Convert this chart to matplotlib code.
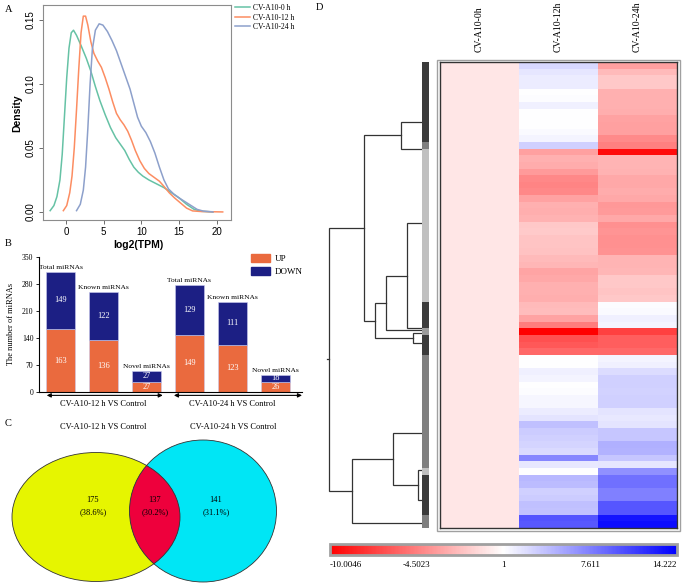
import matplotlib
matplotlib.use("Agg")
import matplotlib.pyplot as plt
import numpy as np
from matplotlib.patches import Ellipse, Patch, Rectangle
from matplotlib.colors import LinearSegmentedColormap, ListedColormap, TwoSlopeNorm

W, H = 685, 583
SERIF = ['Liberation Serif', 'DejaVu Serif']
SANS = ['Liberation Sans', 'DejaVu Sans']
plt.rcParams['font.family'] = SERIF

# ---------------- A: density of log2(TPM)
dens_labels = ['CV-A10-0 h', 'CV-A10-12 h', 'CV-A10-24 h']
dens_colors = ['#66c2a5', '#fc8d62', '#8da0cb']
x_0h = [-2.1, -1.6, -1.2, -0.8, -0.5, -0.2, 0.1, 0.4, 0.7, 1.0, 1.4, 2.0, 2.7, 3.3,
        3.9, 4.5, 5.2, 5.9, 6.6, 7.2, 7.8, 8.4, 9.0, 9.6, 10.2, 11.0, 12.0, 13.0,
        14.0, 15.0, 16.0, 17.0, 18.0, 19.5]
y_0h = [0.001, 0.005, 0.012, 0.025, 0.045, 0.075, 0.105, 0.128, 0.140, 0.142, 0.138,
        0.130, 0.120, 0.110, 0.098, 0.087, 0.076, 0.066, 0.058, 0.053, 0.048, 0.041,
        0.035, 0.031, 0.028, 0.025, 0.022, 0.019, 0.015, 0.011, 0.006, 0.002, 0.0005, 0.0]
x_12h = [-0.35, 0.1, 0.5, 0.8, 1.1, 1.4, 1.7, 2.0, 2.3, 2.6, 2.9, 3.3, 3.7, 4.2, 4.7,
         5.2, 5.7, 6.2, 6.7, 7.2, 7.7, 8.2, 8.7, 9.2, 9.8, 10.4, 11.0, 11.7, 12.4,
         13.0, 13.7, 14.4, 15.2, 16.0, 16.8, 18.0, 20.8]
y_12h = [0.001, 0.005, 0.015, 0.028, 0.050, 0.080, 0.112, 0.140, 0.153, 0.153, 0.146,
         0.133, 0.124, 0.118, 0.113, 0.105, 0.096, 0.086, 0.077, 0.072, 0.068, 0.063,
         0.056, 0.048, 0.040, 0.034, 0.030, 0.027, 0.024, 0.020, 0.015, 0.011, 0.007,
         0.003, 0.0008, 0.0003, 0.0]
x_24h = [1.4, 1.9, 2.3, 2.6, 2.9, 3.2, 3.5, 3.9, 4.4, 4.9, 5.5, 6.1, 6.7, 7.3, 7.9,
         8.5, 9.0, 9.5, 10.0, 10.6, 11.2, 11.8, 12.4, 13.0, 13.6, 14.3, 15.0, 15.8,
         16.6, 17.4, 18.2, 19.5]
y_24h = [0.001, 0.006, 0.017, 0.035, 0.065, 0.100, 0.127, 0.142, 0.147, 0.146, 0.141,
         0.134, 0.126, 0.116, 0.106, 0.096, 0.085, 0.074, 0.067, 0.062, 0.055, 0.046,
         0.035, 0.025, 0.018, 0.014, 0.011, 0.008, 0.005, 0.002, 0.0007, 0.0]

# ---------------- B: differentially expressed miRNAs
groups = ['CV-A10-12 h VS Control', 'CV-A10-24 h VS Control']
categories = ['Total miRNAs', 'Known miRNAs', 'Novel miRNAs']
up_counts = [163, 136, 27, 149, 123, 26]
down_counts = [149, 122, 27, 129, 111, 18]

# ---------------- C: Venn
venn_titles = ['CV-A10-12 h VS Control', 'CV-A10-24 h VS Control']
venn_counts = [175, 137, 141]
venn_pcts = ['38.6%', '30.2%', '31.1%']

# ---------------- D: heatmap
col_labels = ['CV-A10-0h', 'CV-A10-12h', 'CV-A10-24h']
ctrl_0h = [-0.1, -0.1, -0.1, -0.1, -0.1, -0.1, -0.1, -0.1, -0.1, -0.1,
           -0.1, -0.1, -0.1, -0.1, -0.1, -0.1, -0.1, -0.1, -0.1, -0.1,
           -0.1, -0.1, -0.1, -0.1, -0.1, -0.1, -0.1, -0.1, -0.1, -0.1,
           -0.1, -0.1, -0.1, -0.1, -0.1, -0.1, -0.1, -0.1, -0.1, -0.1,
           -0.1, -0.1, -0.1, -0.1, -0.1, -0.1, -0.1, -0.1, -0.1, -0.1,
           -0.1, -0.1, -0.1, -0.1, -0.1, -0.1, -0.1, -0.1, -0.1, -0.1,
           -0.1, -0.1, -0.1, -0.1, -0.1, -0.1, -0.1, -0.1, -0.1, -0.1]
val_12h = [3.0, 2.3, 2.0, 2.0, 1.0, 1.2, 1.8, 1.0, 1.1, 1.0,
           1.3, 1.6, 3.4, -3.1, -2.4, -2.6, -3.3, -4.1, -4.3, -4.1,
           -3.0, -2.4, -2.5, -2.3, -1.4, -1.3, -1.5, -1.5, -1.6, -2.0,
           -2.1, -2.9, -2.7, -2.4, -2.4, -2.5, -2.0, -1.9, -3.0, -4.6,
           -10.0, -6.5, -6.2, -5.5, 1.0, 1.1, 1.8, 1.6, 1.0, 1.2,
           1.5, 1.5, 2.0, 2.4, 4.3, 3.6, 3.4, 3.2, 2.9, 7.2,
           2.2, 1.0, 4.7, 4.5, 3.4, 3.6, 4.3, 4.2, 9.8, 9.6]
val_24h = [-3.1, -2.0, -1.4, -1.4, -2.4, -2.4, -2.4, -2.5, -3.0, -3.1,
           -3.1, -4.0, -4.5, -9.5, -2.2, -2.2, -2.3, -2.7, -2.7, -2.6,
           -2.7, -3.4, -3.3, -2.7, -3.8, -3.6, -3.8, -3.8, -3.7, -2.2,
           -2.2, -2.1, -1.4, -1.4, -1.5, -1.4, 1.2, 1.3, 1.8, 1.6,
           -7.2, -5.9, -5.9, -5.5, 1.6, 1.8, 2.8, 3.4, 3.4, 3.3,
           3.4, 3.4, 2.4, 2.2, 2.4, 3.9, 3.9, 5.1, 5.0, 3.9,
           2.3, 6.75, 8.4, 8.4, 7.6, 7.6, 9.7, 9.7, 13.1, 13.5]
row_cluster = [0, 0, 0, 0, 0, 0, 0, 0, 0, 0,
               0, 0, 1, 2, 2, 2, 2, 2, 2, 2,
               2, 2, 2, 2, 2, 2, 2, 2, 2, 2,
               2, 2, 2, 2, 2, 2, 0, 0, 0, 0,
               3, 0, 0, 0, 1, 1, 1, 1, 1, 1,
               1, 1, 1, 1, 1, 1, 1, 1, 1, 1,
               1, 2, 0, 0, 0, 0, 0, 0, 1, 1]
# dendrogram: leaf positions (in rows) and merges (child a, child b, height)
leaf_rows = [8.97, 13.07, 24.23, 40.0, 40.26, 40.75, 42.26, 55.78, 61.29, 65.79, 69.2]
merges = [(0, 1, 21.3), (2, 3, 14.7), (12, 4, 36.3), (5, 6, 9.0), (13, 14, 47.0),
          (11, 15, 58.0), (8, 9, 4.3), (7, 17, 28.7), (18, 10, 69.7), (16, 19, 92.7)]
cb_ticks = [-10.0046, -4.5023, 1, 7.611, 14.222]
cb_labels = ['-10.0046', '-4.5023', '1', '7.611', '14.222']


def box(left, top, width, height):
    return [left / W, 1 - (top + height) / H, width / W, height / H]


fig = plt.figure(figsize=(W / 100, H / 100), dpi=100)

# ================= panel A
axA = fig.add_axes(box(43, 5, 188, 215))
for xs, ys, c, lab in zip([x_0h, x_12h, x_24h], [y_0h, y_12h, y_24h], dens_colors, dens_labels):
    axA.plot(xs, ys, color=c, lw=1.1, label=lab, solid_joinstyle='round')
axA.set_xlim(-3.05, 21.9)
axA.set_ylim(-0.0063, 0.1617)
axA.set_xticks([0, 5, 10, 15, 20])
axA.set_yticks([0, 0.05, 0.10, 0.15])
axA.set_yticklabels(['0.00', '0.05', '0.10', '0.15'], rotation=90, va='center')
for s in axA.spines.values():
    s.set_color('#8c8c8c')
    s.set_linewidth(0.8)
axA.tick_params(length=3, width=0.6, color='#555555', labelsize=7, pad=2)
for t in axA.get_xticklabels() + axA.get_yticklabels():
    t.set_fontfamily(SANS)
fig.text(17 / W, 1 - 113 / H, 'Density', rotation=90, ha='center', va='center',
         fontsize=7.5, fontweight='bold', family=SANS)
fig.text(138 / W, 1 - 245 / H, 'log2(TPM)', ha='center', va='center',
         fontsize=7.5, fontweight='bold', family=SANS)
axA.legend(loc='upper left', bbox_to_anchor=(235 / W, 1 - 4 / H), bbox_transform=fig.transFigure,
           frameon=False, prop={'family': SERIF, 'size': 5.5}, handlelength=2.0,
           handletextpad=0.4, labelspacing=0.2, borderaxespad=0, borderpad=0)

# ================= panel B
UPC, DOWNC = '#EA6A3E', '#1C1F84'
axB = fig.add_axes(box(39, 257, 263, 135))
xpos = np.arange(len(up_counts))
axB.bar(xpos, up_counts, width=0.69, color=UPC, edgecolor='#c9cbef', lw=0.4, label='UP')
axB.bar(xpos, down_counts, width=0.69, bottom=up_counts, color=DOWNC,
        edgecolor='#c9cbef', lw=0.4, label='DOWN')
for i, (u, d) in enumerate(zip(up_counts, down_counts)):
    axB.text(i, u / 2, str(u), ha='center', va='center', color='white', fontsize=6)
    axB.text(i, u + d / 2, str(d), ha='center', va='center', color='white', fontsize=6)
    axB.annotate(categories[i % 3], (i, u + d), xytext=(0, 1.5), textcoords='offset points',
                 ha='center', va='bottom', fontsize=5.4)
axB.set_xlim(-0.5, 5.62)
axB.set_ylim(0, 350)
axB.set_yticks(range(0, 351, 70))
axB.set_xticks([])
axB.spines['top'].set_visible(False)
axB.spines['right'].set_visible(False)
for s in ['left', 'bottom']:
    axB.spines[s].set_linewidth(0.8)
axB.tick_params(axis='y', length=2.5, width=0.6, labelsize=5.5, pad=1.5)
axB.set_ylabel('The number of miRNAs', fontsize=6, labelpad=5)
trB = axB.get_xaxis_transform()
for g, (x0, x1) in enumerate([(-0.32, 2.38), (2.64, 5.62)]):
    axB.annotate('', xy=(x1, -0.025), xytext=(x0, -0.025), xycoords=trB, textcoords=trB,
                 arrowprops=dict(arrowstyle='<|-|>', color='black', lw=0.8,
                                 mutation_scale=6, shrinkA=0, shrinkB=0),
                 annotation_clip=False)
    axB.text(g * 3 + 1, -0.09, groups[g], transform=trB, ha='center', va='center', fontsize=6)
axB.legend(handles=[Patch(color=UPC, label='UP'), Patch(color=DOWNC, label='DOWN')],
           loc='upper right', bbox_to_anchor=(303 / W, 1 - 254 / H), bbox_transform=fig.transFigure,
           frameon=False, fontsize=6.5, handlelength=2.2, handleheight=1.0,
           handletextpad=0.5, labelspacing=0.45, borderaxespad=0, borderpad=0)

# ================= panel C
axC = fig.add_axes(box(0, 430, 300, 153))
axC.set_xlim(0, 300)
axC.set_ylim(583, 430)
axC.axis('off')
left_c = Ellipse((96, 517), 168, 129, facecolor='#E6F500', edgecolor='none')
right_c = Ellipse((203, 511), 147, 142, facecolor='#00E6F5', edgecolor='none')
axC.add_patch(left_c)
axC.add_patch(right_c)
lens = Ellipse((203, 511), 147, 142, facecolor='#EE003C', edgecolor='none')
axC.add_patch(lens)
lens.set_clip_path(left_c)
for e in [Ellipse((96, 517), 168, 129), Ellipse((203, 511), 147, 142)]:
    e.set_facecolor('none')
    e.set_edgecolor('#333333')
    e.set_linewidth(0.6)
    axC.add_patch(e)
for xc, n, p in zip([93, 155, 216], venn_counts, venn_pcts):
    axC.text(xc, 506, f'{n}\n({p})', ha='center', va='center', fontsize=6, linespacing=1.7)
for xc, t in zip([103, 233], venn_titles):
    fig.text(xc / W, 1 - 427 / H, t, ha='center', va='center', fontsize=6)

# ================= panel D
n_rows = len(val_12h)
heat = np.column_stack([ctrl_0h, val_12h, val_24h])
cmap = LinearSegmentedColormap.from_list('rwb', ['#ff0000', '#ffffff', '#0000ff'])
norm = TwoSlopeNorm(vmin=-10.0046, vcenter=1, vmax=14.222)
axH = fig.add_axes(box(440, 62, 237, 466))
mesh = axH.pcolormesh(heat, cmap=cmap, norm=norm)
axH.set_xlim(0, 3)
axH.set_ylim(n_rows, 0)
axH.set_xticks([])
axH.set_yticks([])
for s in axH.spines.values():
    s.set_color('#333333')
    s.set_linewidth(1.0)
for j, lab in enumerate(col_labels):
    axH.text(j + 0.5, -1.5, lab, rotation=90, ha='center', va='bottom', fontsize=7)
fig.add_artist(Rectangle((437 / W, 1 - 531 / H), 243 / W, 471 / H, transform=fig.transFigure,
                         facecolor='none', edgecolor='#a0a0a0', lw=1.0))

axS = fig.add_axes(box(422, 62, 7, 466))
axS.pcolormesh(np.array(row_cluster)[:, None],
               cmap=ListedColormap(['#3b3b3b', '#7f7f7f', '#c0c0c0', '#9c9c9c']),
               vmin=-0.5, vmax=3.5)
axS.set_ylim(n_rows, 0)
axS.axis('off')

axD = fig.add_axes(box(326, 62, 96, 466))
axD.set_xlim(96, 0)
axD.set_ylim(n_rows, 0)
axD.axis('off')
pos = {i: (0.0, y) for i, y in enumerate(leaf_rows)}
for k, (a, b, h) in enumerate(merges):
    ha, ya = pos[a]
    hb, yb = pos[b]
    axD.plot([ha, h, h, hb], [ya, ya, yb, yb], color='#333333', lw=0.9, solid_joinstyle='miter')
    pos[len(leaf_rows) + k] = (h, (ya + yb) / 2)
root_h, root_y = pos[len(leaf_rows) + len(merges) - 1]
axD.plot([root_h, root_h + 2.5], [root_y, root_y], color='#333333', lw=0.9)

cax = fig.add_axes(box(330, 544, 347, 11))
cb = fig.colorbar(mesh, cax=cax, orientation='horizontal', ticks=cb_ticks)
cb.set_ticklabels(cb_labels)
cax.tick_params(length=0, pad=4, labelsize=6.5)
cb.outline.set_edgecolor('#a0a0a0')
cb.outline.set_linewidth(2.0)
cb_tl = cax.get_xticklabels()
cb_tl[0].set_horizontalalignment('left')
cb_tl[-1].set_horizontalalignment('right')
cb_tl[0].set_x(cb_tl[0].get_position()[0])

# panel letters
for lx, ly, letter in [(5, 9, 'A'), (5, 243, 'B'), (5, 423, 'C'), (316, 8, 'D')]:
    fig.text(lx / W, 1 - ly / H, letter, ha='left', va='center', fontsize=7.5)

fig.savefig('out.png', dpi=100)
